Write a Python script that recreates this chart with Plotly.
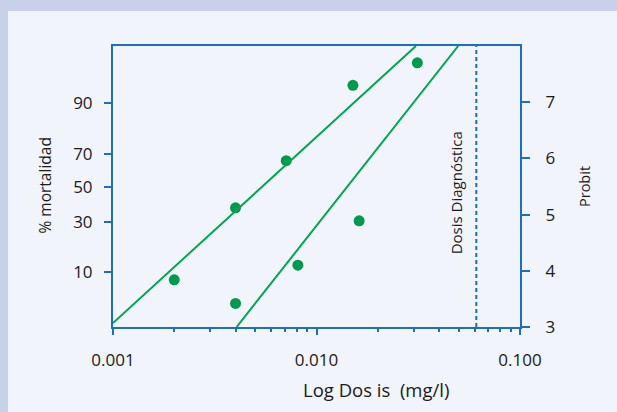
import math
import plotly.graph_objects as go

# ---- data ----
dose_pts = [0.0020, 0.0040, 0.0040, 0.0071, 0.0081, 0.0151, 0.0162, 0.0313]
probit_pts = [3.84, 3.42, 5.12, 5.96, 4.10, 7.30, 4.89, 7.70]

line_a_dose = [0.0010, 0.0308]
line_a_probit = [3.07, 8.0]
line_b_dose = [0.00405, 0.0497]
line_b_probit = [3.0, 8.0]

diag_dose = 0.061

pct_labels = ["10", "30", "50", "70", "90"]
pct_pos = [3.97, 4.87, 5.49, 6.08, 6.99]
probit_ticks = [3, 4, 5, 6, 7]
x_tickvals = [0.001, 0.01, 0.1]
x_ticktext = ["0.001", "0.010", "0.100"]

# ---- style ----
BLUE = "#1a6fc0"
GREEN = "#00a651"
DOT = "#009a4e"
BAND = "#c9d0e9"
BG = "#f1f4fb"
TXT = "#1a1a1a"
FONT = "Open Sans"

W, H = 617, 412
L, R, T, B = 113, 97, 46, 85
pw, ph = W - L - R, H - T - B

def px(xp):
    return (xp - L) / pw

def py(yp):
    return (H - B - yp) / ph

fig = go.Figure()
fig.add_trace(go.Scatter(x=line_a_dose, y=line_a_probit, mode="lines",
                         line=dict(color=GREEN, width=2), yaxis="y2", showlegend=False))
fig.add_trace(go.Scatter(x=line_b_dose, y=line_b_probit, mode="lines",
                         line=dict(color=GREEN, width=2), yaxis="y2", showlegend=False))
fig.add_trace(go.Scatter(x=[diag_dose, diag_dose], y=[3, 8], mode="lines",
                         line=dict(color=BLUE, width=2, dash="4px,3px"), yaxis="y2",
                         showlegend=False))
fig.add_trace(go.Scatter(x=dose_pts, y=probit_pts, mode="markers",
                         marker=dict(color=DOT, size=11), showlegend=False))

fig.update_layout(
    width=W, height=H,
    margin=dict(l=L, r=R, t=T, b=B),
    paper_bgcolor=BAND, plot_bgcolor=BG,
    font=dict(family=FONT, color=TXT, size=17),
    xaxis=dict(type="log", range=[-3, -1], showgrid=False, zeroline=False,
               showline=True, linecolor=BLUE, linewidth=2, mirror=True,
               ticks="outside", ticklen=6, tickwidth=2, tickcolor=BLUE,
               tickvals=x_tickvals, ticktext=x_ticktext,
               ticklabelstandoff=11,
               minor=dict(ticks="outside", ticklen=3, tickwidth=2, tickcolor=BLUE,
                          dtick="D1", showgrid=False),
               tickfont=dict(size=17)),
    yaxis=dict(range=[3, 8], showgrid=False, zeroline=False,
               showline=True, linecolor=BLUE, linewidth=2,
               ticks="outside", ticklen=7, tickwidth=2, tickcolor=BLUE,
               tickvals=pct_pos, ticktext=pct_labels, ticklabelstandoff=8,
               tickfont=dict(size=17)),
    yaxis2=dict(range=[3, 8], overlaying="y", side="right", showgrid=False,
                zeroline=False, showline=True, linecolor=BLUE, linewidth=2,
                ticks="outside", ticklen=8, tickwidth=2, tickcolor=BLUE,
                tickvals=probit_ticks, ticklabelstandoff=12,
                tickfont=dict(size=17)),
    shapes=[dict(type="rect", xref="paper", yref="paper", layer="below",
                 x0=px(8), x1=px(W + 20), y0=py(H + 20), y1=py(11),
                 fillcolor=BG, line=dict(width=0))],
    annotations=[
        dict(text="% mortalidad", xref="paper", yref="paper", x=px(44.5), y=py(186),
             textangle=-90, showarrow=False, font=dict(size=15.5),
             xanchor="center", yanchor="middle"),
        dict(text="Probit", xref="paper", yref="paper", x=px(584), y=py(187),
             textangle=-90, showarrow=False, font=dict(size=14.5),
             xanchor="center", yanchor="middle"),
        dict(text="Log Dos is  (mg/l)", xref="paper", yref="paper", x=px(376), y=py(389),
             showarrow=False, font=dict(size=18.5), xanchor="center", yanchor="middle"),
        dict(text="Dosis Diagnóstica", xref="x", yref="paper", x=math.log10(diag_dose),
             y=py(193), xshift=-20, textangle=-90, showarrow=False,
             font=dict(size=15), xanchor="center", yanchor="middle"),
    ],
)

fig.write_html("out.html", config={"displayModeBar": False},
               post_script="document.body.style.margin='0';document.body.style.padding='0';")
